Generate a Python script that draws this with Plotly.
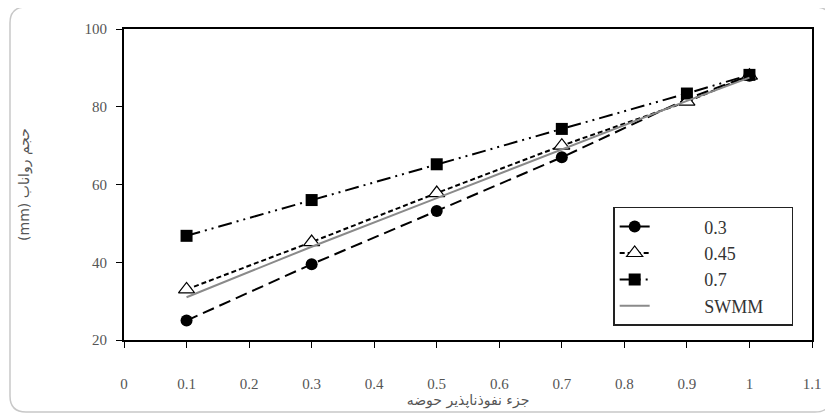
import plotly.graph_objects as go

x_vals = [0.1, 0.3, 0.5, 0.7, 0.9, 1.0]
s03 = [25.0, 39.5, 53.2, 67.0, 82.0, 88.0]
s045 = [33.0, 45.2, 57.8, 70.0, 81.3, 88.0]
s07 = [46.8, 56.0, 65.2, 74.3, 83.4, 88.2]
swmm = [31.0, 44.0, 56.5, 69.0, 81.5, 87.5]
series_names = ["0.3", "0.45", "0.7", "SWMM"]

x_ticks = [0, 0.1, 0.2, 0.3, 0.4, 0.5, 0.6, 0.7, 0.8, 0.9, 1, 1.1]
x_tick_text = ["0", "0.1", "0.2", "0.3", "0.4", "0.5", "0.6", "0.7", "0.8", "0.9", "1", "1.1"]
y_ticks = [20, 40, 60, 80, 100]

serif = "Liberation Serif"
lead = "\u00a0" * 11  # gap between legend symbol and label
tail = "\u00a0" * 5


def label(name):
    return lead + name + tail


fig = go.Figure()
fig.add_trace(go.Scatter(
    x=x_vals, y=s03, name=label(series_names[0]), mode="lines+markers",
    line=dict(color="black", width=2, dash="12px,6px"),
    marker=dict(symbol="circle", size=12, color="black"),
))
fig.add_trace(go.Scatter(
    x=x_vals, y=s045, name=label(series_names[1]), mode="lines+markers",
    line=dict(color="black", width=2, dash="5px,3px"),
    marker=dict(symbol="triangle-up", size=14, color="white",
                line=dict(color="black", width=1.2)),
))
fig.add_trace(go.Scatter(
    x=x_vals, y=s07, name=label(series_names[2]), mode="lines+markers",
    line=dict(color="black", width=2, dash="14px,5px,2px,5px,2px,5px"),
    marker=dict(symbol="square", size=12, color="black"),
))
fig.add_trace(go.Scatter(
    x=x_vals, y=swmm, name=label(series_names[3]), mode="lines",
    line=dict(color="#8a8a8a", width=2),
))

# rounded outer frame (paper coordinates)
pw, ph = 688.0, 311.0
x0, x1, y0, y1 = -0.1657, 1.0276, -0.2315, 1.0707
rx, ry = 16 / pw, 16 / ph
path = (f"M {x0+rx},{y1} L {x1-rx},{y1} Q {x1},{y1} {x1},{y1-ry} "
        f"L {x1},{y0+ry} Q {x1},{y0} {x1-rx},{y0} L {x0+rx},{y0} "
        f"Q {x0},{y0} {x0},{y0+ry} L {x0},{y1-ry} Q {x0},{y1} {x0+rx},{y1} Z")
fig.add_shape(type="path", xref="paper", yref="paper", path=path,
              line=dict(color="#c8c8c8", width=1.5), layer="below")

fig.update_layout(
    width=825, height=408,
    margin=dict(l=116, r=21, t=21, b=76, autoexpand=False),
    paper_bgcolor="white", plot_bgcolor="white",
    font=dict(family=serif, size=15, color="#555"),
    showlegend=True,
    legend=dict(
        x=0.711, y=0.428, xanchor="left", yanchor="top",
        bgcolor="white", bordercolor="#222", borderwidth=1.5,
        font=dict(family=serif, size=18, color="#333"),
        tracegroupgap=2,
    ),
    xaxis=dict(
        range=[0, 1.1], tickvals=x_ticks, ticktext=x_tick_text,
        showgrid=False, zeroline=False, automargin=False,
        showline=True, linecolor="black", linewidth=2, mirror=True,
        ticks="outside", ticklen=6, tickcolor="black",
        ticklabelstandoff=23,
        title=dict(text="جزء نفوذناپذیر حوضه", standoff=0,
                   font=dict(family="DejaVu Sans", size=14, color="#555")),
    ),
    yaxis=dict(
        range=[20, 100], tickvals=y_ticks,
        showgrid=False, zeroline=False, automargin=False,
        showline=True, linecolor="black", linewidth=2, mirror=True,
        ticks="outside", ticklen=6, tickcolor="black",
        ticklabelstandoff=6,
        title=dict(text="(mm) حجم رواناب", standoff=52,
                   font=dict(family="DejaVu Sans", size=14, color="#555")),
    ),
)

fig.write_html("out.html")
